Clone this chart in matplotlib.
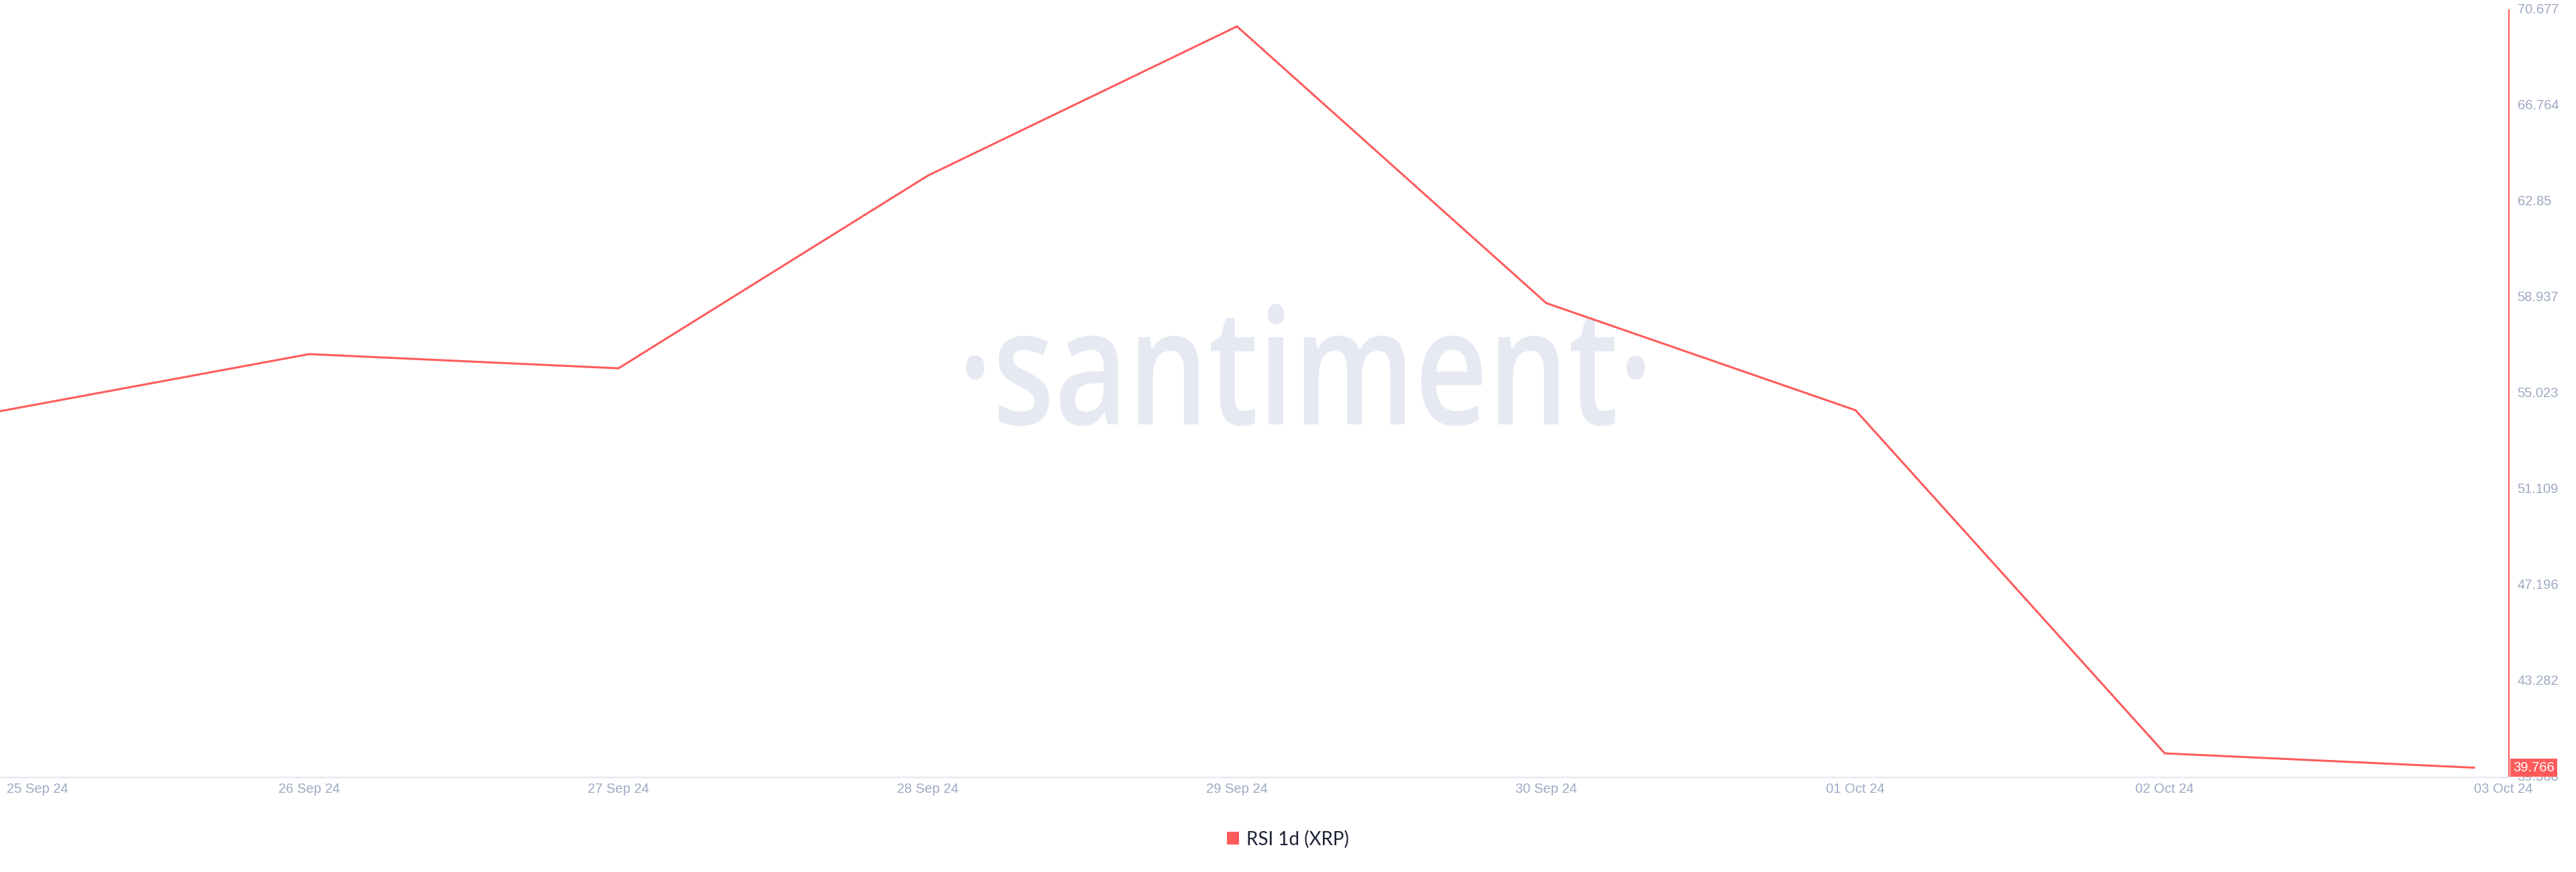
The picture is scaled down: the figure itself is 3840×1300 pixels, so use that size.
import matplotlib
matplotlib.use("Agg")
import matplotlib.pyplot as plt
from matplotlib.textpath import TextPath
from matplotlib.patches import PathPatch, Patch
from matplotlib.font_manager import FontProperties
from matplotlib.transforms import Affine2D, ScaledTranslation, blended_transform_factory

# daily RSI readings for XRP
dates = ["25 Sep 24", "26 Sep 24", "27 Sep 24", "28 Sep 24", "29 Sep 24",
         "30 Sep 24", "01 Oct 24", "02 Oct 24", "03 Oct 24"]
rsi = [54.31, 56.64, 56.06, 63.92, 70.01, 58.72, 54.35, 40.35, 39.766]
y_ticks = [39.368, 43.282, 47.196, 51.109, 55.023, 58.937, 62.85, 66.764, 70.677]
series_name = "RSI 1d (XRP)"

RED = "#ff5b5b"
TICK = "#9ea9c4"
W, H = 3840, 1300

fig = plt.figure(figsize=(W / 100, H / 100), dpi=100)
fig.patch.set_facecolor("white")
# plot area in pixels: x 0..3740, y 15..1159
ax = fig.add_axes([0, (H - 1159) / H, 3740 / W, (1159 - 15) / H])
ax.set_facecolor("none")

# santiment watermark, squeezed horizontally to look like the condensed logo
tp = TextPath((0, 0), "·santiment·", size=100,
              prop=FontProperties(family="Open Sans", weight="semibold"))
ext = tp.get_extents()
x0, x1, y_top, y_bot = 1440, 2452, 453, 635
trans = (Affine2D().translate(-ext.x0, -ext.y0)
         .scale((x1 - x0) / ext.width / W, (y_bot - y_top) / ext.height / H)
         .translate(x0 / W, (H - y_bot) / H) + fig.transFigure)
fig.add_artist(PathPatch(tp, transform=trans, facecolor="#e6e9f2", edgecolor="none", zorder=-1))

x = list(range(len(dates)))
ax.plot(x, rsi, color=RED, lw=2.2, solid_joinstyle="miter", zorder=3)

ax.set_xlim(0, 8 + 52 / 461)
ax.set_ylim(y_ticks[0], y_ticks[-1])

for s in ["top", "left"]:
    ax.spines[s].set_visible(False)
ax.spines["bottom"].set_color("#e3e7f0")
ax.spines["bottom"].set_linewidth(1.5)
ax.spines["right"].set_color(RED)
ax.spines["right"].set_linewidth(1.5)

ax.set_xticks(x)
ax.set_xticklabels(dates)
ax.tick_params(axis="x", length=0, pad=6, labelsize=14.5, labelcolor=TICK)
labels = ax.get_xticklabels()
labels[0].set_ha("left")
labels[0].set_transform(labels[0].get_transform() + ScaledTranslation(0.10, 0, fig.dpi_scale_trans))
labels[-1].set_ha("left")
for lab in labels:
    lab.set_fontfamily("Liberation Sans")

ax.yaxis.tick_right()
ax.set_yticks(y_ticks)
ax.set_yticklabels([f"{v:g}" for v in y_ticks])
ax.tick_params(axis="y", length=0, pad=9, labelsize=14.5, labelcolor=TICK)
for lab in ax.get_yticklabels():
    lab.set_fontfamily("Liberation Sans")
    lab.set_va("center")

# last value badge on the right axis
bt = blended_transform_factory(ax.transAxes, ax.transData)
ax.text(1.0, rsi[-1], f"{rsi[-1]:.3f}", transform=bt + ScaledTranslation(0.065, 0, fig.dpi_scale_trans),
        ha="left", va="center", color="white", fontsize=14.5, family="Liberation Sans",
        bbox=dict(boxstyle="square,pad=0.2", facecolor=RED, edgecolor="none"),
        zorder=10, clip_on=False)

fig.legend(handles=[Patch(facecolor=RED, edgecolor="none", label=series_name)],
           loc="center", bbox_to_anchor=(1920 / W, 1 - 1251 / H), frameon=False,
           prop=FontProperties(family="Lato", size=20), labelcolor="#1e2235",
           handlelength=0.65, handleheight=0.65, handletextpad=0.4, borderpad=0)

fig.savefig("out.png", dpi=100)
